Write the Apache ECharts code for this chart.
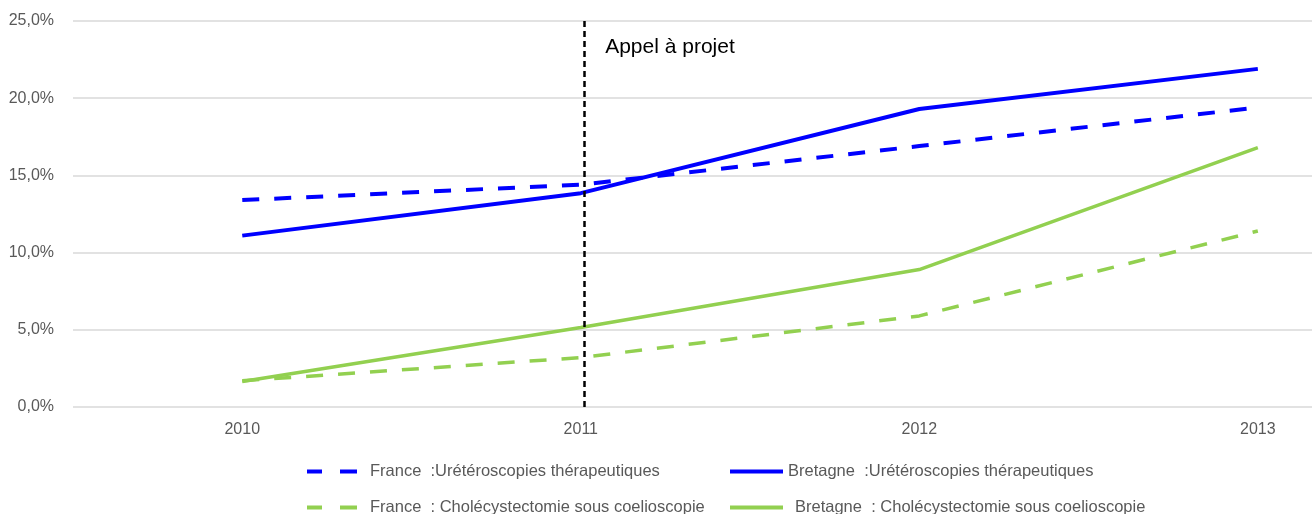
<!DOCTYPE html>
<html>
<head>
<meta charset="utf-8">
<script src="https://cdn.jsdelivr.net/npm/echarts@6/dist/echarts.min.js"></script>
<style>
html,body{margin:0;padding:0;background:#fff;}
#chart{width:1312px;height:514px;}
</style>
</head>
<body>
<div id="chart"></div>
<script>
// ---- data ----
const years = [2010, 2011, 2012, 2013];
const franceUretero = [13.4, 14.4, 16.9, 19.4];
const bretagneUretero = [11.1, 13.85, 19.3, 21.9];
const franceChole = [1.7, 3.2, 5.9, 11.4];
const bretagneChole = [1.65, 5.15, 8.9, 16.8];
const yTicks = [0, 5, 10, 15, 20, 25];
const seriesNames = [
  'France  :Urétéroscopies thérapeutiques',
  'Bretagne  :Urétéroscopies thérapeutiques',
  'France  : Cholécystectomie sous coelioscopie',
  'Bretagne  : Cholécystectomie sous coelioscopie'
];
const appelYear = 2011.013;
const appelLabel = 'Appel à projet';

const FONT = "'Liberation Sans', Arial, sans-serif";
const BLUE = '#0000FF';
const GREEN = '#92D050';
const DASH_ICON = 'path://M0,0L15,0L15,4L0,4Z M33,0L50,0L50,4L33,4Z';
const SOLID_ICON = 'path://M0,0L53,0L53,4L0,4Z';
const pairs = (vals) => years.map((y, i) => [y, vals[i]]);

const chart = echarts.init(document.getElementById('chart'), null, {renderer: 'canvas'});

function legendAt(name, left, top, icon, iconW, textPad) {
  return {
    data: [{name: name, icon: icon}], left: left, top: top, padding: 0,
    itemWidth: iconW, itemHeight: 4, itemGap: 0,
    textStyle: {fontFamily: FONT, fontSize: 16.5, color: '#595959', padding: [0, 0, 0, textPad]},
    selectedMode: false
  };
}

const option = {
  animation: false,
  backgroundColor: '#ffffff',
  grid: {left: 73, right: 0, top: 21, bottom: 107, containLabel: false},
  legend: [
    legendAt(seriesNames[0], 307, 463, DASH_ICON, 50, 8),
    legendAt(seriesNames[1], 730, 463, SOLID_ICON, 53, 0),
    legendAt(seriesNames[2], 307, 499, DASH_ICON, 50, 8),
    legendAt(seriesNames[3], 730, 499, SOLID_ICON, 53, 7)
  ],
  xAxis: {
    type: 'value', min: 2009.5, max: 2013.16,
    axisLine: {show: false}, axisTick: {show: false}, splitLine: {show: false},
    axisLabel: {
      customValues: years, formatter: (v) => String(v),
      fontFamily: FONT, fontSize: 16, color: '#595959', margin: 15
    }
  },
  yAxis: {
    type: 'value', min: yTicks[0], max: yTicks[yTicks.length - 1], interval: 5,
    axisLine: {show: false}, axisTick: {show: false},
    splitLine: {lineStyle: {color: '#d9d9d9', width: 1.5}},
    axisLabel: {
      formatter: (v) => v.toFixed(1).replace('.', ',') + '%',
      fontFamily: FONT, fontSize: 16, color: '#595959', margin: 19
    }
  },
  series: [
    {name: seriesNames[0], type: 'line', data: pairs(franceUretero), symbol: 'none', color: BLUE,
     lineStyle: {color: BLUE, width: 4, type: [17, 15]},
     markLine: {
       silent: true, symbol: 'none', label: {show: false},
       lineStyle: {color: '#000', width: 2.5, type: [6, 4]},
       data: [{xAxis: appelYear}]
     }},
    {name: seriesNames[1], type: 'line', data: pairs(bretagneUretero), symbol: 'none', color: BLUE,
     lineStyle: {color: BLUE, width: 4, type: 'solid'}},
    {name: seriesNames[2], type: 'line', data: pairs(franceChole), symbol: 'none', color: GREEN,
     lineStyle: {color: GREEN, width: 3.5, type: [17, 15]}},
    {name: seriesNames[3], type: 'line', data: pairs(bretagneChole), symbol: 'none', color: GREEN,
     lineStyle: {color: GREEN, width: 3.5, type: 'solid'}}
  ]
};
chart.setOption(option);

const px = chart.convertToPixel({gridIndex: 0}, [appelYear, 25]);
chart.setOption({
  graphic: [{
    type: 'text', left: px[0] + 20, top: px[1] + 16,
    style: {text: appelLabel, fontFamily: FONT, fontSize: 21, fill: '#000'}
  }]
});
</script>
</body>
</html>
